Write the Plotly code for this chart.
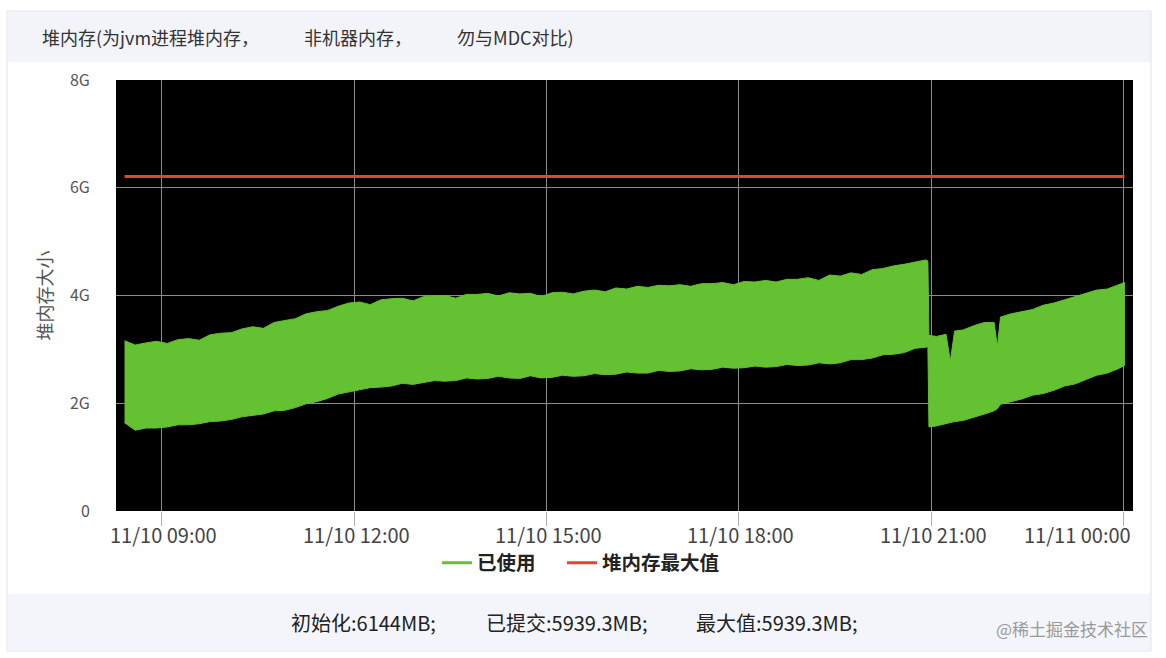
import pandas as pd
import plotly.graph_objects as go

# ---------------- data (GB) ----------------
times_a = list(pd.date_range("2022-11-10 08:25", "2022-11-10 20:55", freq="10min")) + [pd.Timestamp("2022-11-10 20:57")]
upper_a = [3.16, 3.08, 3.12, 3.15, 3.11, 3.18, 3.20, 3.17, 3.27, 3.30,
           3.31, 3.38, 3.42, 3.39, 3.50, 3.54, 3.57, 3.66, 3.70, 3.72,
           3.80, 3.86, 3.88, 3.83, 3.92, 3.94, 3.95, 3.90, 3.98, 3.99,
           4.00, 3.95, 4.02, 4.02, 4.04, 3.99, 4.05, 4.03, 4.04, 3.98,
           4.05, 4.06, 4.03, 4.08, 4.10, 4.07, 4.14, 4.12, 4.17, 4.15,
           4.19, 4.18, 4.20, 4.17, 4.22, 4.22, 4.24, 4.20, 4.26, 4.25,
           4.28, 4.25, 4.30, 4.30, 4.33, 4.28, 4.38, 4.36, 4.42, 4.39,
           4.48, 4.50, 4.55, 4.58, 4.62, 4.66, 4.64]
lower_a = [1.64, 1.50, 1.54, 1.54, 1.56, 1.60, 1.60, 1.62, 1.66, 1.67,
           1.70, 1.75, 1.77, 1.80, 1.86, 1.87, 1.92, 1.99, 2.03, 2.09,
           2.17, 2.21, 2.25, 2.29, 2.30, 2.32, 2.37, 2.35, 2.38, 2.42,
           2.41, 2.42, 2.47, 2.45, 2.46, 2.50, 2.47, 2.46, 2.51, 2.47,
           2.48, 2.52, 2.50, 2.51, 2.55, 2.53, 2.54, 2.58, 2.56, 2.56,
           2.61, 2.59, 2.60, 2.64, 2.62, 2.63, 2.67, 2.65, 2.66, 2.69,
           2.67, 2.68, 2.72, 2.70, 2.71, 2.75, 2.73, 2.75, 2.81, 2.81,
           2.84, 2.90, 2.91, 2.94, 3.02, 3.04, 3.05]

times_b = ["2022-11-10 20:58", "2022-11-10 21:05", "2022-11-10 21:14", "2022-11-10 21:18",
           "2022-11-10 21:22", "2022-11-10 21:30", "2022-11-10 21:40", "2022-11-10 21:50",
           "2022-11-10 21:59", "2022-11-10 22:02", "2022-11-10 22:05", "2022-11-10 22:15",
           "2022-11-10 22:25", "2022-11-10 22:35", "2022-11-10 22:45", "2022-11-10 22:55",
           "2022-11-10 23:05", "2022-11-10 23:15", "2022-11-10 23:25", "2022-11-10 23:35",
           "2022-11-10 23:45", "2022-11-10 23:55", "2022-11-11 00:01"]
upper_b = [3.26, 3.24, 3.28, 2.78, 3.34, 3.36, 3.44, 3.50, 3.50, 3.05,
           3.60, 3.66, 3.70, 3.74, 3.82, 3.86, 3.92, 3.98, 4.04, 4.10,
           4.12, 4.20, 4.24]
lower_b = [1.56, 1.58, 1.62, 1.64, 1.66, 1.68, 1.74, 1.80, 1.86, 1.90,
           1.98, 2.03, 2.08, 2.15, 2.18, 2.24, 2.32, 2.36, 2.44, 2.52,
           2.56, 2.64, 2.70]

heap_max = 6.21  # 堆内存最大值 (GB)

tick_times = ["2022-11-10 09:00", "2022-11-10 12:00", "2022-11-10 15:00",
              "2022-11-10 18:00", "2022-11-10 21:00", "2022-11-11 00:00"]
tick_labels = ["11/10 09:00", "11/10 12:00", "11/10 15:00",
               "11/10 18:00", "11/10 21:00", "11/11 00:00"]
y_ticks = [0, 2, 4, 6, 8]
y_labels = ["0", "2G", "4G", "6G", "8G"]

title_text = "堆内存(为jvm进程堆内存，\u2003\u2003\u2002非机器内存，\u2003\u2003\u2002勿与MDC对比)"
footer_items = ["初始化:6144MB;", "已提交:5939.3MB;", "最大值:5939.3MB;"]

# ---------------- build ----------------
FONT = "Noto Sans CJK SC"
GREEN = "#63c132"
RED = "#e0472b"

times = times_a + [pd.Timestamp(t) for t in times_b]
upper = upper_a + upper_b
lower = lower_a + lower_b
poly_x = times + times[::-1]
poly_y = upper + lower[::-1]

fig = go.Figure()
fig.add_trace(go.Scatter(x=poly_x, y=poly_y, fill="toself", fillcolor=GREEN,
                         mode="lines", line=dict(color=GREEN, width=1),
                         showlegend=False, hoverinfo="skip"))
fig.add_trace(go.Scatter(x=[None], y=[None], mode="lines", name="已使用",
                         line=dict(color=GREEN, width=3), legend="legend"))
fig.add_trace(go.Scatter(x=[times[0], times[-1]], y=[heap_max, heap_max],
                         mode="lines", name="堆内存最大值",
                         line=dict(color=RED, width=3), legend="legend2"))

L, R, T, B = 116, 1133, 80, 511
W, H = 1166, 658
def px(xp):
    return (xp - L) / (R - L)
def py(yp):
    return (B - yp) / (B - T)

shapes = [
    dict(type="rect", xref="paper", yref="paper", x0=px(8), x1=px(1151), y0=py(12), y1=py(62),
         fillcolor="#f2f4f9", line=dict(width=0), layer="below"),
    dict(type="rect", xref="paper", yref="paper", x0=px(8), x1=px(1151), y0=py(594), y1=py(650),
         fillcolor="#f3f5fa", line=dict(width=0), layer="below"),
    dict(type="rect", xref="paper", yref="paper", x0=px(7), x1=px(1151), y0=py(11), y1=py(651),
         fillcolor="rgba(0,0,0,0)", line=dict(color="#dfe3ea", width=1)),
]

annotations = [
    dict(text=title_text, xref="paper", yref="paper", x=px(40), y=py(37),
         xanchor="left", yanchor="middle", showarrow=False,
         font=dict(family=FONT, size=18, color="#333")),
]
footer_x = [289, 484, 694]
for xx, t in zip(footer_x, footer_items):
    annotations.append(dict(text=t, xref="paper", yref="paper", x=px(xx), y=py(622),
                            xanchor="left", yanchor="middle", showarrow=False,
                            font=dict(family=FONT, size=20, color="#222")))
annotations.append(dict(text="@稀土掘金技术社区", xref="paper", yref="paper", x=px(1150), y=py(628),
                        xanchor="right", yanchor="middle", showarrow=False,
                        font=dict(family=FONT, size=17, color="#9a9a9a")))
# x tick labels placed at their tick times (the last one right-aligned, as in the original)
for i, (tv, tl) in enumerate(zip(tick_times, tick_labels)):
    last = i == len(tick_times) - 1
    annotations.append(dict(text=tl, xref="x", yref="paper", x=tv, y=py(534),
                            xanchor="right" if last else "center", yanchor="middle",
                            showarrow=False, xshift=10 if last else 2,
                            font=dict(family=FONT, size=20, color="#444")))

legend_common = dict(orientation="h", xanchor="left", y=py(563), yanchor="middle",
                     font=dict(family=FONT, size=19.5, color="#222", weight="bold"),
                     bgcolor="rgba(0,0,0,0)", itemwidth=30)

fig.update_layout(
    width=W, height=H,
    margin=dict(l=L, r=W - R, t=T, b=H - B),
    paper_bgcolor="white", plot_bgcolor="black",
    font=dict(family=FONT, color="#444"),
    shapes=shapes, annotations=annotations,
    showlegend=True,
    legend=dict(x=px(437), **legend_common),
    legend2=dict(x=px(562), **legend_common),
    xaxis=dict(type="date", range=["2022-11-10 08:17", "2022-11-11 00:09"],
               tickvals=tick_times, ticktext=["" for _ in tick_times],
               showgrid=True, gridcolor="#8c8c8c", gridwidth=1,
               ticks="outside", ticklen=14, tickcolor="#b0b0b0", tickwidth=1,
               showline=False, zeroline=False),
    yaxis=dict(range=[0, 8], tickvals=y_ticks, ticktext=y_labels,
               showgrid=True, gridcolor="#8c8c8c", gridwidth=1,
               ticks="outside", ticklen=22, tickcolor="rgba(0,0,0,0)",
               tickfont=dict(family=FONT, size=16, color="#555"),
               title=dict(text="堆内存大小", standoff=12,
                          font=dict(family=FONT, size=18, color="#555")),
               showline=False, zeroline=False),
)

fig.write_html("out.html", config={"displayModeBar": False},
               post_script="document.body.style.margin='0';")
